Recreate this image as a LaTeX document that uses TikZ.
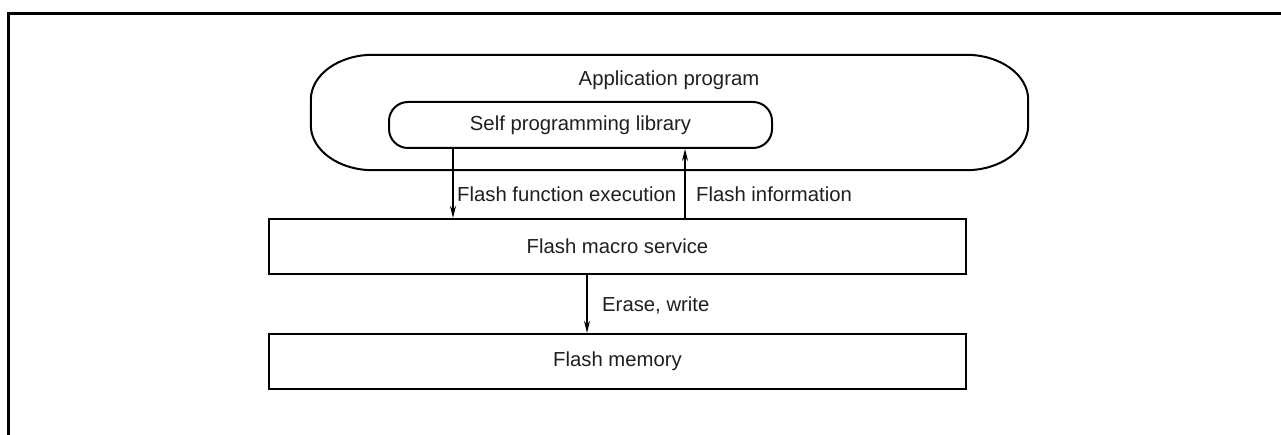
\documentclass[tikz,border=0pt]{standalone}
\usepackage{fontspec}
\setmainfont{Liberation Sans}
\usetikzlibrary{arrows.meta,calc}
\begin{document}
\begin{tikzpicture}[x=1pt,y=-1pt,
  txt/.style={font=\fontsize{20.3}{24}\selectfont, text=black!88, inner sep=0pt},
  flatbox/.style={draw, line width=2.3pt, minimum width=697pt, minimum height=55pt, inner sep=0pt, font=\fontsize{20.3}{24}\selectfont, text=black!88},
  roundline/.style={line width=2pt},
  flow/.style={line width=1.1pt, -{Stealth[length=12pt,width=6pt]}},
  frameline/.style={line width=3pt}
]
\useasboundingbox (0,0) rectangle (1281,435);
% outer frame (top and left only)
\coordinate (ftl) at (8,13.3);
\coordinate (ftr) at (1285,13.3);
\coordinate (fbl) at (8,440);
\draw[frameline] (fbl) -- (ftl) -- (ftr);

% application program shape
\node[minimum width=717pt, minimum height=115pt, inner sep=0pt] (app) at (669.5,112.5) {};
\draw[roundline]
  ([xshift=62pt]app.north west) -- ([xshift=-62pt]app.north east)
  arc[start angle=90, end angle=0, x radius=62pt, y radius=45pt]
  -- ([yshift=45pt]app.south east)
  arc[start angle=0, end angle=-90, x radius=62pt, y radius=45pt]
  -- ([xshift=62pt]app.south west)
  arc[start angle=-90, end angle=-180, x radius=62pt, y radius=45pt]
  -- ([yshift=-45pt]app.north west)
  arc[start angle=180, end angle=90, x radius=62pt, y radius=45pt] -- cycle;
\node[txt] (apptxt) at (669,80) {Application program};

% self programming library
\node[draw, line width=2pt, rounded corners=19pt, minimum width=383pt, minimum height=46pt, inner sep=0pt,
  font=\fontsize{20.3}{24}\selectfont, text=black!88] (lib) at (580.5,125) {Self programming library};

% flash macro service and memory
\node[flatbox] (macro) at (617.5,246.5) {Flash macro service};
\node[flatbox] (mem) at (617.5,361.5) {Flash memory};

% arrows
\draw[flow] (lib.south -| 453,0) -- (macro.north -| 453,0);
\draw[flow] (macro.north -| 685,0) -- (lib.south -| 685,0);
\draw[flow] (macro.south -| 587,0) -- (mem.north -| 587,0);

% labels
\node[txt, anchor=west] (l1) at (457,194.5) {Flash function execution};
\node[txt, anchor=west] (l2) at (696,194.5) {Flash information};
\node[txt, anchor=west] (l3) at (602,305.5) {Erase, write};
\end{tikzpicture}
\end{document}
